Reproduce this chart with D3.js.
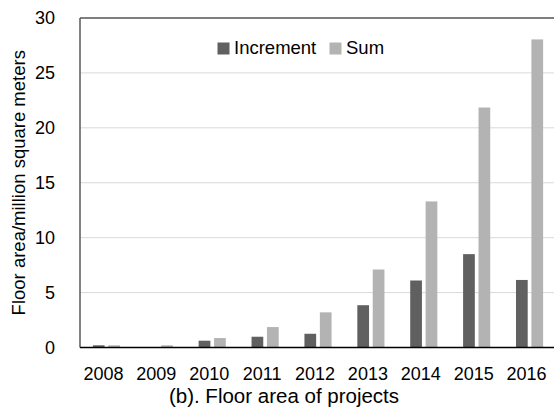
<!DOCTYPE html>
<html>
<head>
<meta charset="utf-8">
<script src="https://cdn.jsdelivr.net/npm/d3@7"></script>
<style>
  html, body { margin: 0; padding: 0; background: #fff; }
  svg { display: block; font-family: "Liberation Sans", Arial, sans-serif; }
</style>
</head>
<body>
<svg id="chart" width="554" height="416"></svg>
<script>
// Floor area of projects per year (million square meters)
const years = ["2008", "2009", "2010", "2011", "2012", "2013", "2014", "2015", "2016"];
const increment = [0.2, 0.0, 0.62, 0.98, 1.25, 3.85, 6.1, 8.5, 6.15];
const sum = [0.2, 0.2, 0.86, 1.86, 3.2, 7.1, 13.3, 21.85, 28.05];
const yTicks = [0, 5, 10, 15, 20, 25, 30];
const seriesNames = ["Increment", "Sum"];
const seriesColors = ["#606060", "#b3b3b3"];

const svg = d3.select("#chart");
const plotLeft = 80, plotRight = 556, plotTop = 18, plotBottom = 347.5;
const fontFamily = "'Liberation Sans', Arial, sans-serif";

const x = d3.scaleBand().domain(years).range([plotLeft, plotRight]).paddingInner(0.487).paddingOuter(0.2435);
const xSub = d3.scaleBand().domain(seriesNames).range([0, x.bandwidth()]).paddingInner(0.24);
const y = d3.scaleLinear().domain([0, 30]).range([plotBottom, plotTop]);

// horizontal gridlines
svg.append("g").selectAll("line")
  .data(yTicks.filter(t => t > 0 && t < 30))
  .join("line")
  .attr("x1", plotLeft).attr("x2", plotRight)
  .attr("y1", d => y(d)).attr("y2", d => y(d))
  .attr("stroke", "#d9d9d9").attr("stroke-width", 1);

// y tick labels
const yAxis = d3.axisLeft(y).tickValues(yTicks).tickSize(0).tickPadding(25);
const gy = svg.append("g").attr("transform", `translate(${plotLeft},0)`).call(yAxis);
gy.select(".domain").remove();
gy.selectAll("text").attr("font-size", 18).attr("fill", "#000")
  .attr("font-family", fontFamily);

// bars
const rows = years.map((yr, i) => ({ year: yr, values: [increment[i], sum[i]] }));
const groups = svg.append("g").selectAll("g")
  .data(rows).join("g")
  .attr("transform", d => `translate(${x(d.year)},0)`);
groups.selectAll("rect")
  .data(d => d.values.map((v, k) => ({ key: seriesNames[k], v, color: seriesColors[k] })))
  .join("rect")
  .attr("x", d => xSub(d.key))
  .attr("width", xSub.bandwidth())
  .attr("y", d => y(d.v))
  .attr("height", d => plotBottom - y(d.v))
  .attr("fill", d => d.color);

// frame: top border, left axis, baseline
svg.append("line").attr("x1", plotLeft).attr("x2", plotRight).attr("y1", plotTop).attr("y2", plotTop)
  .attr("stroke", "#000").attr("stroke-width", 1.2);
svg.append("line").attr("x1", plotLeft).attr("x2", plotLeft).attr("y1", plotTop).attr("y2", plotBottom)
  .attr("stroke", "#595959").attr("stroke-width", 1.5);
svg.append("line").attr("x1", plotLeft).attr("x2", plotRight).attr("y1", plotBottom).attr("y2", plotBottom)
  .attr("stroke", "#000").attr("stroke-width", 1.5);

// x labels
const xAxis = d3.axisBottom(x).tickSize(0).tickPadding(20);
const gx = svg.append("g").attr("transform", `translate(-3,${plotBottom})`).call(xAxis);
gx.select(".domain").remove();
gx.selectAll("text").attr("font-size", 18).attr("fill", "#000")
  .attr("font-family", fontFamily);

// y axis title
svg.append("text")
  .attr("transform", `translate(25,${(plotTop + plotBottom) / 2}) rotate(-90)`)
  .attr("text-anchor", "middle")
  .attr("font-size", 18.5)
  .text("Floor area/million square meters");

// caption
svg.append("text")
  .attr("x", 284).attr("y", 402.5)
  .attr("text-anchor", "middle")
  .attr("font-size", 20.5)
  .text("(b). Floor area of projects");

// legend
const legend = svg.append("g");
const legendX = [217.5, 329.5];
seriesNames.forEach((name, i) => {
  legend.append("rect")
    .attr("x", legendX[i]).attr("y", 42.5).attr("width", 12).attr("height", 12)
    .attr("fill", seriesColors[i]);
  legend.append("text")
    .attr("x", legendX[i] + 16.5).attr("y", 54)
    .attr("font-size", 18.5)
    .text(name);
});
</script>
</body>
</html>
